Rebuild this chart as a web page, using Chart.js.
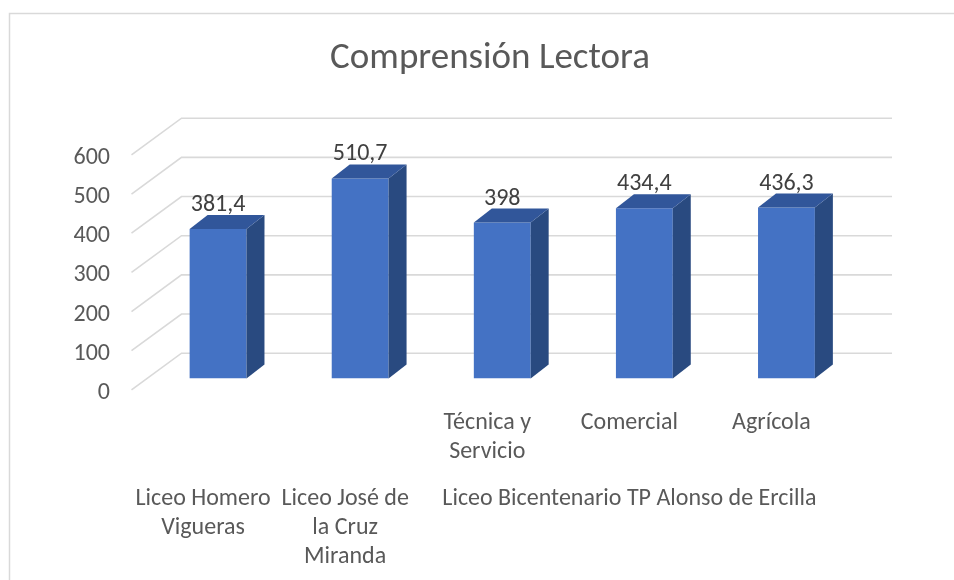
<!DOCTYPE html>
<html>
<head>
<meta charset="utf-8">
<script src="https://cdn.jsdelivr.net/npm/chart.js@4.4.1/dist/chart.umd.min.js"></script>
<style>
  html, body { margin: 0; padding: 0; background: #ffffff; }
  canvas { display: block; }
</style>
</head>
<body>
<canvas id="c" width="954" height="580"></canvas>
<script>
// ---- data ----
const chartTitle = 'Comprensión Lectora';
const subCategories = [[''], [''], ['Técnica y', 'Servicio'], ['Comercial'], ['Agrícola']];
const groupLabels = [['Liceo Homero', 'Vigueras'], ['Liceo José de', 'la Cruz', 'Miranda'], [''], ['Liceo Bicentenario TP Alonso de Ercilla'], ['']];
const values = [381.4, 510.7, 398, 434.4, 436.3];
const yMin = 0;
const yMax = 600;
const yStep = 100;

// ---- style ----
const FONT = "Carlito, 'Liberation Sans Narrow', Lato, sans-serif";
const FRONT = '#4472C4';
const SIDE = '#294A80';
const TOP = '#31569A';
const GRID = '#D9D9D9';
const TEXT = '#595959';

// 3D geometry (pixels)
const FLOOR_DX = 50, FLOOR_DY = -36.7, BAR_PLANE = 0.31;
const BAR_DX = 18, BAR_DY = -14;

function fmt(v) { return String(v).replace('.', ','); }

const threeD = {
  id: 'threeD',
  beforeDraw(chart) {
    const ctx = chart.ctx;
    ctx.save();
    ctx.fillStyle = '#ffffff';
    ctx.fillRect(0, 0, chart.width, chart.height);
    ctx.strokeStyle = GRID;
    ctx.lineWidth = 1.5;
    ctx.strokeRect(9.5, 13.5, chart.width + 10, chart.height + 10);
    ctx.restore();
  },
  beforeDatasetsDraw(chart) {
    const { ctx, chartArea: a, scales: { y } } = chart;
    ctx.save();
    ctx.strokeStyle = GRID;
    ctx.lineWidth = 1.6;
    y.ticks.forEach(t => {
      const py = y.getPixelForValue(t.value);
      const fx = a.left - BAR_PLANE * FLOOR_DX, fy = py - BAR_PLANE * FLOOR_DY;
      const bx = a.left + (1 - BAR_PLANE) * FLOOR_DX, by = py + (1 - BAR_PLANE) * FLOOR_DY;
      const ex = a.right + (1 - BAR_PLANE) * FLOOR_DX;
      ctx.beginPath();
      ctx.moveTo(fx, fy);
      ctx.lineTo(bx, by);
      ctx.lineTo(ex, by);
      ctx.stroke();
    });
    ctx.restore();
  },
  afterDatasetsDraw(chart) {
    const ctx = chart.ctx;
    const meta = chart.getDatasetMeta(0);
    ctx.save();
    meta.data.forEach((bar, i) => {
      const p = bar.getProps(['x', 'y', 'base', 'width'], true);
      const l = p.x - p.width / 2, r = p.x + p.width / 2, t = p.y, b = p.base;
      // side
      ctx.fillStyle = SIDE;
      ctx.beginPath();
      ctx.moveTo(r, t); ctx.lineTo(r + BAR_DX, t + BAR_DY);
      ctx.lineTo(r + BAR_DX, b + BAR_DY); ctx.lineTo(r, b); ctx.closePath();
      ctx.fill();
      // top
      ctx.fillStyle = TOP;
      ctx.beginPath();
      ctx.moveTo(l, t); ctx.lineTo(l + BAR_DX, t + BAR_DY);
      ctx.lineTo(r + BAR_DX, t + BAR_DY); ctx.lineTo(r, t); ctx.closePath();
      ctx.fill();
      // value label
      ctx.fillStyle = '#404040';
      ctx.font = "24px " + FONT;
      ctx.textAlign = 'center';
      ctx.textBaseline = 'middle';
      ctx.fillText(fmt(values[i]), p.x, t - 24);
    });
    ctx.restore();
  }
};

new Chart(document.getElementById('c'), {
  type: 'bar',
  data: {
    labels: subCategories,
    datasets: [{
      data: values,
      backgroundColor: FRONT,
      borderWidth: 0,
      categoryPercentage: 1,
      barPercentage: 0.4
    }]
  },
  options: {
    responsive: false,
    animation: false,
    events: [],
    layout: { padding: { left: 26, right: 0, top: 0, bottom: 0 } },
    plugins: {
      legend: { display: false },
      tooltip: { enabled: false },
      title: {
        display: true,
        text: chartTitle,
        color: TEXT,
        font: { family: FONT, size: 37, weight: 'normal', lineHeight: 1.2 },
        padding: { top: 36.8, bottom: 62.3 }
      }
    },
    scales: {
      y: {
        min: yMin, max: yMax,
        grid: { display: false },
        border: { display: false },
        ticks: {
          stepSize: yStep,
          color: TEXT,
          padding: 29,
          labelOffset: 14.4,
          font: { family: FONT, size: 24, lineHeight: 1.2 }
        },
        afterFit(s) { s.width = 121; }
      },
      yRight: {
        type: 'linear',
        position: 'right',
        display: true,
        grid: { display: false },
        border: { display: false },
        ticks: { display: false },
        afterFit(s) { s.width = 96.5; }
      },
      x: {
        grid: { display: false },
        border: { display: false },
        ticks: {
          color: TEXT,
          autoSkip: false,
          maxRotation: 0, minRotation: 0,
          padding: 21.75,
          labelOffset: -15,
          font: { family: FONT, size: 24, lineHeight: 1.22 }
        },
        afterFit(s) { s.height = 90; }
      },
      x2: {
        type: 'category',
        labels: groupLabels,
        position: 'bottom',
        offset: true,
        grid: { display: false },
        border: { display: false },
        ticks: {
          color: TEXT,
          autoSkip: false,
          maxRotation: 0, minRotation: 0,
          padding: 7.75,
          labelOffset: -15,
          font: { family: FONT, size: 24, lineHeight: 1.22 }
        },
        afterFit(s) { s.height = 111.5; }
      }
    }
  },
  plugins: [threeD]
});
</script>
</body>
</html>
